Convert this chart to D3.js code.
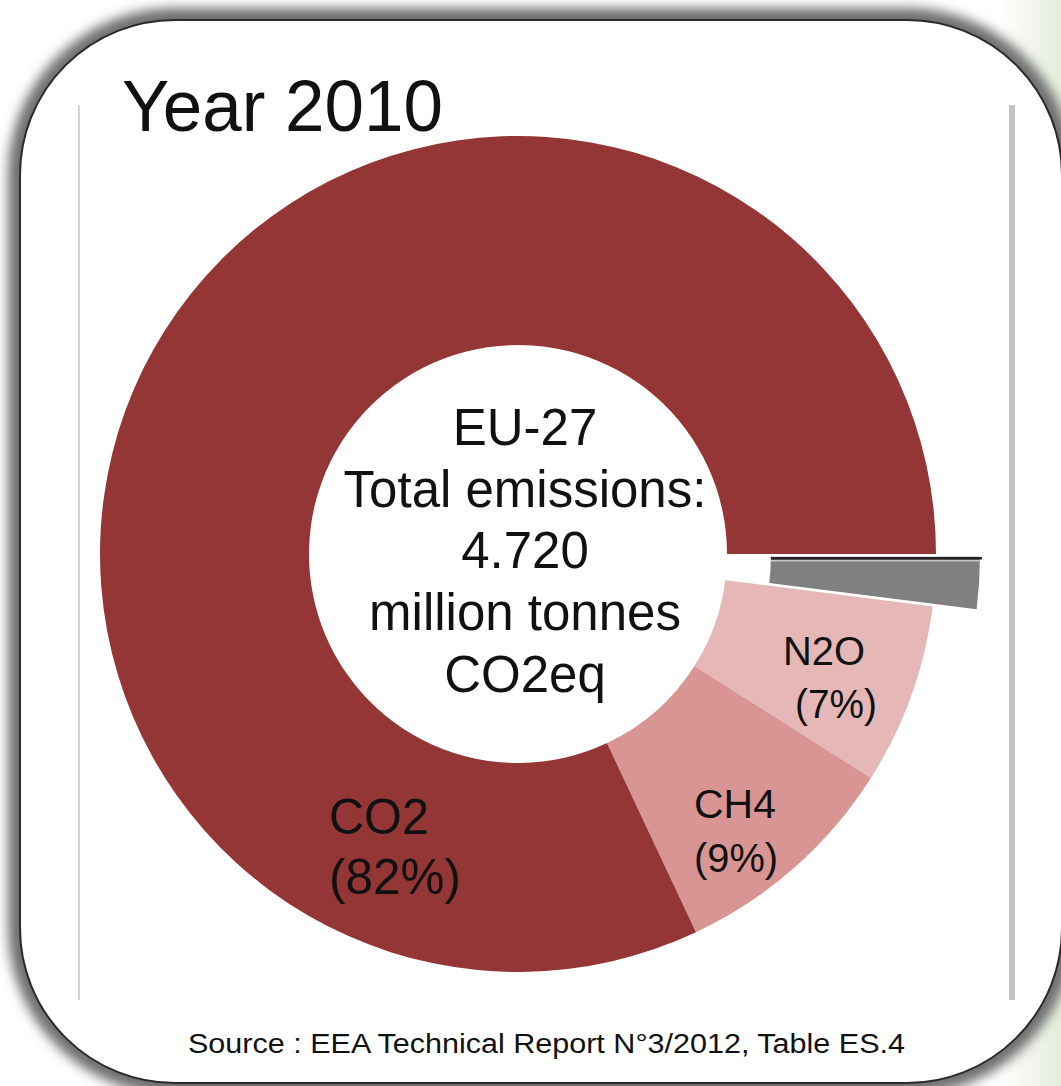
<!DOCTYPE html>
<html>
<head>
<meta charset="utf-8">
<script src="https://cdn.jsdelivr.net/npm/d3@7"></script>
<style>
  html, body { margin: 0; padding: 0; background: #ffffff; }
  svg { display: block; }
  text { font-family: "Liberation Sans", Arial, Helvetica, sans-serif; fill: #111; }
</style>
</head>
<body>
<div id="chart"></div>
<script>
// ---- data ----
const title = "Year 2010";
const categories = ["F-gases", "N2O", "CH4", "CO2"];
const shares = [2, 7, 9, 82];           // percent of total
const sliceColors = ["#808080", "#e5b8b7", "#d99594", "#943636"];
const sliceLabels = ["", "N2O", "CH4", "CO2"];
const centerLines = ["EU-27", "Total emissions:", "4.720", "million tonnes", "CO2eq"];
const source = "Source : EEA Technical Report N\u00b03/2012, Table ES.4";

// ---- layout ----
const W = 1061, H = 1086;
const cx = 518, cy = 554;
const outerR = 418, innerR = 209;
const explode = { "F-gases": 44 };
const labelLayout = {
  "CO2": { x: 329, y1: 834, y2: 894, size: 50, w1: 100, w2: 132 },
  "CH4": { x: 694, y1: 818, y2: 872, size: 40, w1: 82, w2: 84 },
  "N2O": { x: 783, y1: 665, y2: 718, size: 40, w1: 82, w2: 82, x2: 795 }
};

const svg = d3.select("#chart").append("svg")
  .attr("width", W).attr("height", H);

const defs = svg.append("defs");
defs.append("filter").attr("id", "shadow")
  .attr("x", "-5%").attr("y", "-5%").attr("width", "110%").attr("height", "110%")
  .append("feGaussianBlur").attr("stdDeviation", 6);

const frame = { x: 20, y: 20, w: 1042, h: 1063, r: 155 };

// pale green background tint at far right
const grad = defs.append("linearGradient").attr("id", "greenTint")
  .attr("x1", "0").attr("x2", "1").attr("y1", "0").attr("y2", "0");
grad.append("stop").attr("offset", "0").attr("stop-color", "#ffffff");
grad.append("stop").attr("offset", "1").attr("stop-color", "#e4eedb");
svg.append("rect").attr("x", 1000).attr("y", 0).attr("width", 61).attr("height", H)
  .attr("fill", "url(#greenTint)");

// shadow of frame
svg.append("rect")
  .attr("x", frame.x).attr("y", frame.y).attr("width", frame.w).attr("height", frame.h)
  .attr("rx", frame.r).attr("ry", frame.r)
  .attr("fill", "none").attr("stroke", "#6e6e6e").attr("stroke-width", 24)
  .attr("filter", "url(#shadow)");

// frame
svg.append("rect")
  .attr("x", frame.x).attr("y", frame.y).attr("width", frame.w).attr("height", frame.h)
  .attr("rx", frame.r).attr("ry", frame.r)
  .attr("fill", "#ffffff").attr("stroke", "#2a2a2a").attr("stroke-width", 2);

// inner vertical rules
svg.append("rect").attr("x", 78).attr("y", 105).attr("width", 2).attr("height", 895).attr("fill", "#d4d4d4");
svg.append("rect").attr("x", 1009).attr("y", 105).attr("width", 6).attr("height", 895).attr("fill", "#c2c2c2");

// title
svg.append("text")
  .attr("x", 122).attr("y", 131)
  .attr("font-size", 72)
  .attr("textLength", 321).attr("lengthAdjust", "spacingAndGlyphs")
  .text(title);

// ---- donut ----
const data = categories.map((c, i) => ({ name: c, value: shares[i], color: sliceColors[i], label: sliceLabels[i] }));
const pie = d3.pie().sort(null).value(d => d.value)
  .startAngle(Math.PI / 2).endAngle(Math.PI / 2 + 2 * Math.PI);
const arc = d3.arc().innerRadius(innerR).outerRadius(outerR);
const arcs = pie(data);

const g = svg.append("g").attr("transform", `translate(${cx},${cy})`);

function offsetOf(d) {
  const off = explode[d.data.name] || 0;
  const a = (d.startAngle + d.endAngle) / 2;
  return [off * Math.sin(a), -off * Math.cos(a)];
}

const slices = g.selectAll("g.slice").data(arcs).join("g")
  .attr("class", "slice")
  .attr("transform", d => { const o = offsetOf(d); return `translate(${o[0]},${o[1]})`; });

slices.append("path")
  .attr("d", arc)
  .attr("fill", d => d.data.color);

// dark top edge on the exploded slice
slices.filter(d => explode[d.data.name]).append("line")
  .attr("x1", d => innerR * Math.sin(d.startAngle))
  .attr("y1", d => -innerR * Math.cos(d.startAngle) + 1.5)
  .attr("x2", d => outerR * Math.sin(d.startAngle) + 2)
  .attr("y2", d => -outerR * Math.cos(d.startAngle) + 1.5)
  .attr("stroke", "#222").attr("stroke-width", 2.5);
slices.filter(d => explode[d.data.name]).append("line")
  .attr("x1", d => innerR * Math.sin(d.startAngle))
  .attr("y1", d => -innerR * Math.cos(d.startAngle) + 4)
  .attr("x2", d => outerR * Math.sin(d.startAngle))
  .attr("y2", d => -outerR * Math.cos(d.startAngle) + 4)
  .attr("stroke", "#c8c8c8").attr("stroke-width", 1.5);

// slice labels
data.filter(d => d.label).forEach(d => {
  const L = labelLayout[d.name];
  svg.append("text")
    .attr("x", L.x).attr("y", L.y1)
    .attr("font-size", L.size)
    .attr("textLength", L.w1).attr("lengthAdjust", "spacingAndGlyphs")
    .text(d.label);
  svg.append("text")
    .attr("x", L.x2 || L.x).attr("y", L.y2)
    .attr("font-size", L.size)
    .attr("textLength", L.w2).attr("lengthAdjust", "spacingAndGlyphs")
    .text(`(${d.value}%)`);
});

// center text
const centerBase = 445, lineStep = 61.7;
svg.append("g").selectAll("text").data(centerLines).join("text")
  .attr("x", 525)
  .attr("y", (d, i) => centerBase + i * lineStep)
  .attr("text-anchor", "middle")
  .attr("font-size", 51)
  .text(d => d);

// source
svg.append("text")
  .attr("x", 188).attr("y", 1053)
  .attr("font-size", 27)
  .attr("textLength", 717).attr("lengthAdjust", "spacingAndGlyphs")
  .text(source);
</script>
</body>
</html>
